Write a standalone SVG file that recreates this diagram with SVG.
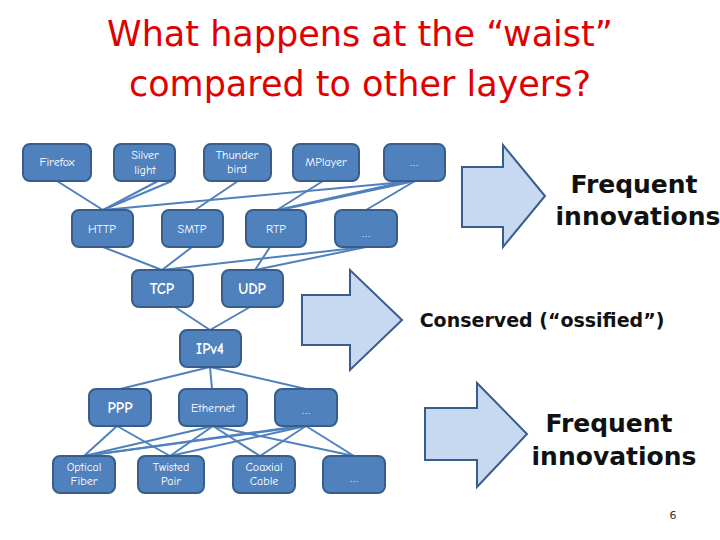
<svg xmlns="http://www.w3.org/2000/svg" width="720" height="540" viewBox="0 0 720 540">
<style>
.n rect{fill:#4F81BD;stroke:#385D8A;stroke-width:2}
.n text{fill:#fff;font-family:"Comic Neue","DejaVu Sans",sans-serif;font-size:12px;text-anchor:middle}
.n text.b{font-size:15px;font-weight:bold}
#edges line{stroke:#4F81BD;stroke-width:2}
.arr{fill:#C6D9F1;stroke:#385D8A;stroke-width:2}
.lbl{font-family:"DejaVu Sans",sans-serif;font-weight:bold;fill:#111;text-anchor:middle}
</style>
<rect width="720" height="540" fill="#fff"/>
<text x="360" y="46" font-family="DejaVu Sans,sans-serif" font-size="35" fill="#E00000" text-anchor="middle">What happens at the “waist”</text>
<text x="360" y="96" font-family="DejaVu Sans,sans-serif" font-size="35" fill="#E00000" text-anchor="middle">compared to other layers?</text>
<g id="edges">
<line x1="57" y1="181" x2="103" y2="210"/><line x1="158" y1="181" x2="103" y2="210"/><line x1="172" y1="181" x2="103" y2="210"/>
<line x1="238" y1="181" x2="195" y2="210"/><line x1="323" y1="181" x2="277" y2="210"/>
<line x1="415" y1="181" x2="103" y2="210"/><line x1="408" y1="181" x2="277" y2="210"/><line x1="415" y1="181" x2="280" y2="210"/><line x1="415" y1="181" x2="366" y2="210"/>
<line x1="103" y1="247" x2="162" y2="270"/><line x1="192" y1="247" x2="162" y2="270"/><line x1="270" y1="247" x2="255" y2="270"/>
<line x1="364" y1="247" x2="162" y2="270"/><line x1="366" y1="247" x2="255" y2="270"/>
<line x1="175" y1="307" x2="210" y2="330"/><line x1="250" y1="307" x2="210" y2="330"/>
<line x1="210" y1="367" x2="120" y2="389"/><line x1="210" y1="367" x2="212" y2="389"/><line x1="210" y1="367" x2="306" y2="389"/>
<line x1="117" y1="426" x2="84" y2="456"/><line x1="117" y1="426" x2="170" y2="456"/>
<line x1="213" y1="426" x2="84" y2="456"/><line x1="213" y1="426" x2="170" y2="456"/><line x1="213" y1="426" x2="260" y2="456"/><line x1="213" y1="426" x2="354" y2="456"/>
<line x1="306" y1="426" x2="84" y2="456"/><line x1="300" y1="426" x2="84" y2="456"/><line x1="306" y1="426" x2="170" y2="456"/><line x1="306" y1="426" x2="260" y2="456"/><line x1="306" y1="426" x2="354" y2="456"/>
</g>
<g id="firefox" class="n"><rect x="23" y="144" width="68" height="37" rx="7"/><text x="57" y="166">Firefox</text></g>
<g id="silverlight" class="n"><rect x="114" y="144" width="61" height="37" rx="7"/><text x="145" y="159">Silver</text><text x="145" y="174">light</text></g>
<g id="thunderbird" class="n"><rect x="204" y="144" width="67" height="37" rx="7"/><text x="237" y="159">Thunder</text><text x="237" y="173">bird</text></g>
<g id="mplayer" class="n"><rect x="293" y="144" width="66" height="37" rx="7"/><text x="326" y="166">MPlayer</text></g>
<g id="app-more" class="n"><rect x="384" y="144" width="61" height="37" rx="7"/><text x="414" y="166">…</text></g>
<g id="http" class="n"><rect x="72" y="210" width="61" height="37" rx="7"/><text x="102" y="233">HTTP</text></g>
<g id="smtp" class="n"><rect x="162" y="210" width="61" height="37" rx="7"/><text x="192" y="233">SMTP</text></g>
<g id="rtp" class="n"><rect x="246" y="210" width="60" height="37" rx="7"/><text x="276" y="233">RTP</text></g>
<g id="app2-more" class="n"><rect x="335" y="210" width="62" height="37" rx="7"/><text x="366" y="237">…</text></g>
<g id="tcp" class="n"><rect x="132" y="270" width="61" height="37" rx="7"/><text class="b" x="162" y="294">TCP</text></g>
<g id="udp" class="n"><rect x="222" y="270" width="61" height="37" rx="7"/><text class="b" x="252" y="294">UDP</text></g>
<g id="ipv4" class="n"><rect x="180" y="330" width="61" height="37" rx="7"/><text class="b" x="210" y="354">IPv4</text></g>
<g id="ppp" class="n"><rect x="89" y="389" width="62" height="37" rx="7"/><text class="b" x="120" y="413">PPP</text></g>
<g id="ethernet" class="n"><rect x="179" y="389" width="68" height="37" rx="7"/><text x="213" y="412">Ethernet</text></g>
<g id="link-more" class="n"><rect x="275" y="389" width="62" height="37" rx="7"/><text x="306" y="414">…</text></g>
<g id="optical" class="n"><rect x="53" y="456" width="62" height="37" rx="7"/><text x="84" y="471">Optical</text><text x="84" y="485">Fiber</text></g>
<g id="twisted" class="n"><rect x="138" y="456" width="66" height="37" rx="7"/><text x="171" y="471">Twisted</text><text x="171" y="485">Pair</text></g>
<g id="coaxial" class="n"><rect x="233" y="456" width="62" height="37" rx="7"/><text x="264" y="471">Coaxial</text><text x="264" y="485">Cable</text></g>
<g id="phy-more" class="n"><rect x="323" y="456" width="62" height="37" rx="7"/><text x="354" y="482">…</text></g>
<polygon class="arr" points="462,167 503,167 503,145 545,196 503,247 503,227 462,227"/>
<polygon class="arr" points="302,295 350,295 350,270 402,320 350,370 350,345 302,345"/>
<polygon class="arr" points="425,408 477,408 477,383 527,434 477,487 477,460 425,460"/>
<text class="lbl" x="634" y="193" font-size="25">Frequent</text>
<text class="lbl" x="638" y="225" font-size="25">innovations</text>
<text class="lbl" x="542" y="327" font-size="19">Conserved (“ossified”)</text>
<text class="lbl" x="609" y="432" font-size="25">Frequent</text>
<text class="lbl" x="614" y="465" font-size="25">innovations</text>
<text x="673" y="519" font-family="DejaVu Sans,sans-serif" font-size="11" fill="#333" text-anchor="middle">6</text>
</svg>
